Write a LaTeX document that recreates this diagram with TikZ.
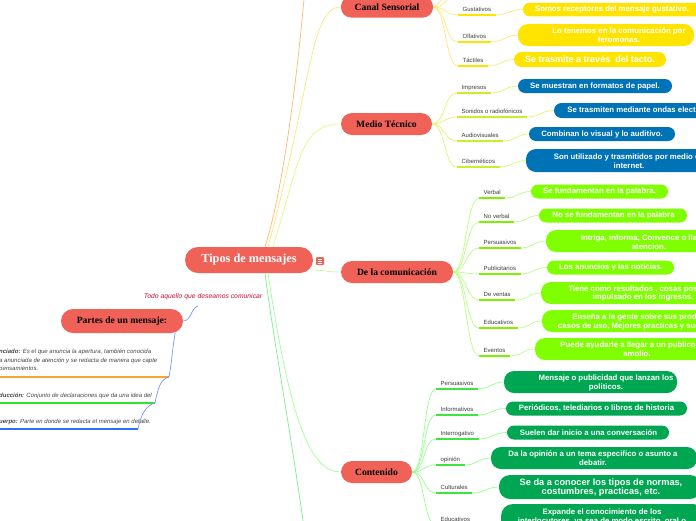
\documentclass[tikz,border=0pt]{standalone}
\usepackage{fontspec}
\setmainfont{Liberation Sans}
\newfontfamily\mmserif{Liberation Serif}
\definecolor{mmred}{RGB}{240,98,88}
\definecolor{boxY}{RGB}{255,228,0}
\definecolor{boxB}{RGB}{0,114,182}
\definecolor{boxL}{RGB}{128,255,0}
\definecolor{boxG}{RGB}{0,166,81}
\definecolor{cY}{RGB}{255,232,120}
\definecolor{cB}{RGB}{222,247,110}
\definecolor{cL}{RGB}{185,255,130}
\definecolor{cG}{RGB}{150,255,140}
\definecolor{uY}{RGB}{255,228,0}
\definecolor{uB}{RGB}{200,240,40}
\definecolor{uL}{RGB}{128,240,0}
\definecolor{uG}{RGB}{60,230,60}
\definecolor{labgray}{RGB}{60,60,60}
\definecolor{entgray}{RGB}{70,70,70}
\definecolor{todored}{RGB}{200,16,60}
\definecolor{cPart}{RGB}{120,150,255}
\definecolor{cOr}{RGB}{255,185,110}
\definecolor{cYe}{RGB}{255,230,120}
\definecolor{cMe}{RGB}{230,250,130}
\definecolor{cDe}{RGB}{200,255,150}
\definecolor{cCo}{RGB}{160,255,150}
\definecolor{cBo}{RGB}{120,240,140}
\definecolor{ulO}{RGB}{245,165,50}
\definecolor{ulGr}{RGB}{50,225,50}
\definecolor{ulBl}{RGB}{50,110,240}
\newcommand\mmfnorm{\bfseries\fontsize{7.8pt}{8.8pt}\selectfont}
\newcommand\mmfbig{\bfseries\fontsize{9pt}{10pt}\selectfont}
\newcommand\mmfbigb{\bfseries\fontsize{9.2pt}{9.6pt}\selectfont}
\tikzset{
  redbox/.style={fill=mmred, text=black, font=\mmserif\bfseries\fontsize{9.6pt}{11pt}\selectfont, inner sep=0pt},
  lab/.style={font=\fontsize{6pt}{7pt}\selectfont, text=labgray, inner xsep=4.5pt, inner ysep=2.5pt, text height=4.4pt, text depth=1.2pt},
  leaf/.style={inner sep=0pt},
  txt/.style={text=white, align=center, inner sep=0pt},
  conY/.style={draw=cY, line width=0.7pt},
  conB/.style={draw=cB, line width=0.7pt},
  conL/.style={draw=cL, line width=0.7pt},
  conG/.style={draw=cG, line width=0.7pt},
  ulY/.style={draw=uY, line width=1.3pt},
  ulB/.style={draw=uB, line width=1.3pt},
  ulL/.style={draw=uL, line width=1.3pt},
  ulG/.style={draw=uG, line width=1.3pt},
  cen/.style={line width=0.7pt},
  entry/.style={font=\itshape\fontsize{6pt}{8.5pt}\selectfont, text=entgray, align=left, inner sep=0pt},
  todo/.style={font=\itshape\fontsize{6.8pt}{8pt}\selectfont, text=todored, inner sep=0pt},
  conP/.style={draw=cPart, line width=0.7pt},
  entul/.style={line width=1.5pt}
}
% #1 parent, #2 id, #3 x, #4 y, #5 label, #6 group
\newcommand\mmlab[6]{%
  \node[lab, anchor=south west] (#2) at (#3,#4) {#5};
  \draw[ul#6] (#2.south west) -- (#2.south east);
  \draw[con#6] (#1.east) .. controls +(13,0) and +(-13,0) .. (#2.south west);}
% #1 id, #2 x, #3 y, #4 w, #5 h, #6 r, #7 group
\newcommand\mmbox[7]{%
  \node[leaf, fill=box#7, minimum width=#4pt, minimum height=#5pt, rounded corners=#6pt] (#1-b) at (#2,#3) {};
  \draw[con#7] (#1.south east) .. controls +(12,0) and +(-12,0) .. (#1-b.west);}
% #1 id, #2 x, #3 y, #4 font, #5 text
\newcommand\mmtxt[5]{%
  \node[txt, font=#4] (#1-t) at (#2,#3) {#5};}
\begin{document}
\begin{tikzpicture}[x=1pt,y=-1pt]
\useasboundingbox (0,0) rectangle (696,520);
\clip (0,0) rectangle (696,520);
\fill[white] (0,0) rectangle (696,520);

% central and main branches
\node[fill=mmred, text=white, font=\mmserif\bfseries\fontsize{12.3pt}{14pt}\selectfont, inner sep=0pt, minimum width=128pt, minimum height=26pt, rounded corners=13pt] (ctr) at (249,260) {Tipos de mensajes};
\node[fill=mmred, minimum size=8pt, inner sep=0pt, rounded corners=1pt] (icon) at (320,261) {};
\draw[white, line width=0.6pt] ([xshift=-2.2pt,yshift=2pt]icon.center) -- ([xshift=2.2pt,yshift=2pt]icon.center);
\draw[white, line width=0.6pt] ([xshift=-2.2pt]icon.center) -- ([xshift=2.2pt]icon.center);
\draw[white, line width=0.6pt] ([xshift=-2.2pt,yshift=-2pt]icon.center) -- ([xshift=2.2pt,yshift=-2pt]icon.center);

\node[redbox, minimum width=92pt, minimum height=21pt, rounded corners=10pt] (canal) at (387,7) {Canal Sensorial};
\node[redbox, minimum width=91pt, minimum height=22pt, rounded corners=11pt] (medio) at (386.5,124) {Medio Técnico};
\node[redbox, minimum width=112pt, minimum height=22pt, rounded corners=11pt] (decom) at (397,272) {De la comunicación};
\node[redbox, minimum width=71pt, minimum height=22pt, rounded corners=11pt] (cont) at (376.5,472) {Contenido};
\node[redbox, minimum width=122pt, minimum height=24pt, rounded corners=12pt] (partes) at (122,321) {Partes de un mensaje:};

% central connectors
\coordinate (topOff) at (305,-12);
\coordinate (botOff) at (305,535);
\draw[cen, draw=cOr] ([xshift=16pt]ctr.north) .. controls (283,190) and (297,80) .. (topOff);
\draw[cen, draw=cYe] ([xshift=19pt]ctr.north) .. controls (312,85) and (310,7) .. (canal.west);
\draw[cen, draw=cMe] ([xshift=24pt]ctr.north) .. controls (300,160) and (300,124) .. (medio.west);
\draw[cen, draw=cDe] ([xshift=-3pt,yshift=-10pt]ctr.east) .. controls +(15,0) and +(-15,0) .. (decom.west);
\draw[cen, draw=cCo] ([xshift=19pt]ctr.south) .. controls (290,420) and (310,472) .. (cont.west);
\draw[cen, draw=cBo] ([xshift=16pt]ctr.south) .. controls (272,330) and (292,440) .. (botOff);

% Canal sensorial: branches above the picture
\coordinate (cs1) at (450,-15);
\coordinate (cs2) at (446,-40);
\draw[conY] (canal.east) .. controls +(13,0) and +(0,12) .. (cs1);
\draw[conY] (canal.east) .. controls +(10,0) and +(0,20) .. (cs2);

% Canal Sensorial
\mmlab{canal}{gus}{458}{15}{Gustativos}{Y}
\mmbox{gus}{614}{9.5}{182}{13.5}{6.5}{Y}
\mmtxt{gus}{612}{9.5}{\mmfnorm}{Somos receptores del mensaje gustativo.}
\mmlab{canal}{olf}{458}{42}{Olfativos}{Y}
\mmbox{olf}{606}{35}{176}{22}{10}{Y}
\mmtxt{olf}{619}{35}{\mmfnorm}{Lo tenemos en la comunicación por\\feromonas.}
\mmlab{canal}{tac}{458}{66}{Táctiles}{Y}
\mmbox{tac}{590}{59.5}{152}{15}{7.5}{Y}
\mmtxt{tac}{590}{59.5}{\mmfbig}{Se trasmite a través\ \ del tacto.}

% Medio Tecnico
\mmlab{medio}{imp}{457}{93}{Impresos}{B}
\mmbox{imp}{595}{86}{154}{14}{7}{B}
\mmtxt{imp}{595}{86}{\mmfnorm}{Se muestran en formatos de papel.}
\mmlab{medio}{son}{457}{117}{Sonidos o radiofónicos}{B}
\mmbox{son}{657}{110.5}{206}{15}{7.5}{B}
\mmtxt{son}{658}{110.5}{\mmfnorm}{Se trasmiten mediante ondas electromagnéticas.}
\mmlab{medio}{aud}{457}{141}{Audiovisuales}{B}
\mmbox{aud}{602}{134}{146}{14}{7}{B}
\mmtxt{aud}{602}{134}{\mmfnorm}{Combinan lo visual y lo auditivo.}
\mmlab{medio}{cib}{457}{167}{Cibernéticos}{B}
\mmbox{cib}{629}{160.5}{206}{23}{10}{B}
\mmtxt{cib}{629}{161}{\mmfnorm}{Son utilizado y trasmitidos por medio de\\internet.}

% De la comunicacion
\mmlab{decom}{ver}{479}{198}{Verbal}{L}
\mmbox{ver}{599.5}{191.5}{137}{14}{7}{L}
\mmtxt{ver}{599.5}{191.5}{\mmfnorm}{Se fundamentan en la palabra.}
\mmlab{decom}{nov}{479}{222}{No verbal}{L}
\mmbox{nov}{613}{215.5}{148}{14}{7}{L}
\mmtxt{nov}{613.5}{215.5}{\mmfnorm}{No se fundamentan en la palabra}
\mmlab{decom}{per}{479}{248}{Persuasivos}{L}
\mmbox{per}{649}{241}{206}{22}{10}{L}
\mmtxt{per}{649}{242}{\mmfnorm}{Intriga, informa, Convence o llama la\\atencion.}
\mmlab{decom}{pub}{479}{274}{Publicitarios}{L}
\mmbox{pub}{610.5}{267.5}{127}{14}{7}{L}
\mmtxt{pub}{611}{267.5}{\mmfnorm}{Los anuncios y las noticias.}
\mmlab{decom}{ven}{479}{300}{De ventas}{L}
\mmbox{ven}{643}{293}{204}{22}{10}{L}
\mmtxt{ven}{643}{293.5}{\mmfnorm}{Tiene como resultados , cosas positivas\\impulsado en los ingresos.}
\mmlab{decom}{edu}{479}{328}{Educativos}{L}
\mmbox{edu}{651}{321}{218}{22}{10}{L}
\mmtxt{edu}{646}{322}{\mmfnorm}{Enseña a la gente sobre sus productos,\\casos de uso, Mejores practicas y sugerencias.}
\mmlab{decom}{eve}{479}{356}{Eventos}{L}
\mmbox{eve}{637}{349}{204}{22}{10}{L}
\mmtxt{eve}{637}{350}{\mmfnorm}{Puede ayudarle a llegar a un publico más\\amplio.}

% Contenido
\mmlab{cont}{cper}{436}{389}{Persuasivos}{G}
\mmbox{cper}{590.5}{382}{173}{22}{10}{G}
\mmtxt{cper}{606}{383}{\mmfnorm}{Mensaje o publicidad que lanzan los\\politicos.}
\mmlab{cont}{inf}{436}{415}{Informativos}{G}
\mmbox{inf}{596.5}{408.5}{181}{14}{7}{G}
\mmtxt{inf}{596.5}{408.5}{\mmfnorm}{Periódicos, telediarios o libros de historia}
\mmlab{cont}{int}{436}{439}{Interrogativo}{G}
\mmbox{int}{588}{432.5}{162}{14}{7}{G}
\mmtxt{int}{588.5}{432.5}{\mmfnorm}{Suelen dar inicio a una conversación}
\mmlab{cont}{opi}{436}{465}{opinión}{G}
\mmbox{opi}{594}{458}{206}{22}{10}{G}
\mmtxt{opi}{593}{458.5}{\mmfnorm}{Da la opinión a un tema especifico o asunto a\\debatir.}
\mmlab{cont}{cul}{436}{493}{Culturales}{G}
\mmbox{cul}{600}{487}{202}{24}{11}{G}
\mmtxt{cul}{601}{487.5}{\mmfbigb}{Se da a conocer los tipos de normas,\\costumbres, practicas, etc.}
\mmlab{cont}{cedu}{436}{525}{Educativos}{G}
\mmbox{cedu}{603}{524}{204}{40}{12}{G}
\mmtxt{cedu}{602}{517}{\mmfnorm}{Expande el conocimiento de los\\interlocutores, ya sea de modo escrito, oral o}

% Partes de un mensaje
\coordinate (todoEnd) at (198,306);
\node[todo] (todo) at (203,297) {Todo aquello que deseamos comunicar};
\draw[conP] (partes.east) .. controls +(8,0) and +(-7,2) .. (todoEnd);

\node[entry, anchor=north west] (enun) at (-1,349) {\textbf{nciado:} Es el que anuncia la apertura, también conocida\\a anunciada de atención y se redacta de manera que capte\\pensamientos.};
\node[entry, anchor=west] (intro) at (-1,396) {\textbf{ducción:} Conjunto de declaraciones que da una idea del};
\node[entry, anchor=west] (cuer) at (-1,422) {\textbf{uerpo:} Parte en donde se redacta el mensaje en detalle.};
\coordinate (u1s) at (-5,377);
\coordinate (u1) at (169,377);
\coordinate (u2s) at (-5,403);
\coordinate (u2) at (155,403);
\coordinate (u3s) at (-5,429);
\coordinate (u3) at (138,429);
\draw[entul, draw=ulO] (u1s) -- (u1);
\draw[entul, draw=ulGr] (u2s) -- (u2);
\draw[entul, draw=ulBl] (u3s) -- (u3);
\draw[conP] ([xshift=-8pt]partes.south east) .. controls +(-3,16) and +(3,-16) .. (u1);
\draw[conP] (u1) .. controls +(-8,2) and +(3,-16) .. (u2);
\draw[conP] (u2) .. controls +(-8,2) and +(3,-16) .. (u3);
\end{tikzpicture}
\end{document}
